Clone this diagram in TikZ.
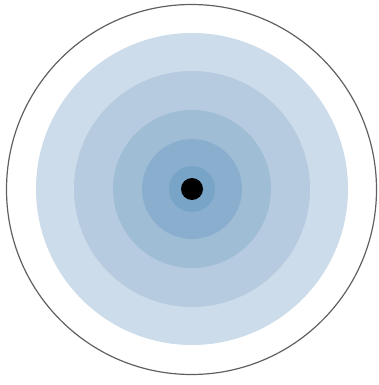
\documentclass[tikz,border=0pt]{standalone}
\definecolor{ringA}{HTML}{CCDCEA}
\definecolor{ringB}{HTML}{B6CBDF}
\definecolor{ringC}{HTML}{A0BDD6}
\definecolor{ringD}{HTML}{8AAFCE}
\definecolor{ringE}{HTML}{78A4C8}
\definecolor{rim}{HTML}{606060}
\begin{document}
\begin{tikzpicture}[x=1pt,y=-1pt,
  disc/.style={fill=#1,draw=none}]
\useasboundingbox (0,0) rectangle (379,385);
\coordinate (c) at (192,189);
\fill[disc=ringA] (c) circle (156);
\fill[disc=ringB] (c) circle (118);
\fill[disc=ringC] (c) circle (79);
\fill[disc=ringD] (c) circle (50);
\fill[disc=ringE] (c) circle (23);
\fill[black] (c) circle (11);
\draw[rim,line width=1.2pt] (191.5,189.5) circle (185);
\end{tikzpicture}
\end{document}
